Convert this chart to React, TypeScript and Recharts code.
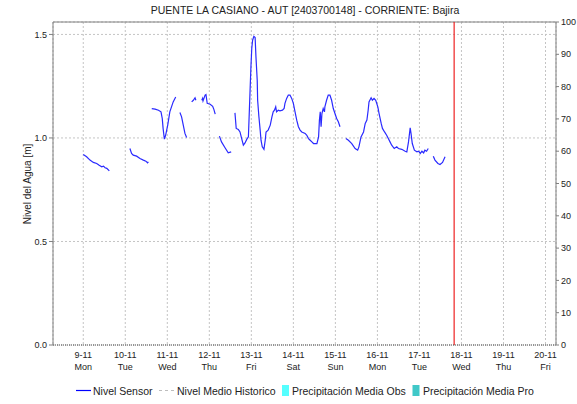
import React from 'react';
import { LineChart, Line, XAxis, YAxis, CartesianGrid, ReferenceLine } from 'recharts';

const FONT = '"Liberation Sans", Arial, Helvetica, sans-serif';

const chartTitle = 'PUENTE LA CASIANO - AUT [2403700148] - CORRIENTE: Bajira';
const yAxisTitle = 'Nivel del Agua [m]';
const dayTicks = [0, 1, 2, 3, 4, 5, 6, 7, 8, 9, 10, 11];
const dayLabels = ['9-11', '10-11', '11-11', '12-11', '13-11', '14-11', '15-11', '16-11', '17-11', '18-11', '19-11', '20-11'];
const weekdayLabels = ['Mon', 'Tue', 'Wed', 'Thu', 'Fri', 'Sat', 'Sun', 'Mon', 'Tue', 'Wed', 'Thu', 'Fri'];
const levelTicks = [0, 0.5, 1.0, 1.5];
const precipTicks = [0, 10, 20, 30, 40, 50, 60, 70, 80, 90, 100];
const nowDay = 8.826;
const legendNames = ['Nivel Sensor', 'Nivel Medio Historico', 'Precipitación Media Obs', 'Precipitación Media Pro'];

// time in days since 9-11 00:00 ; null level = gap in the record
const sensorDays = [
  0.00, 0.08, 0.16, 0.24, 0.32, 0.37, 0.44, 0.48, 0.52, 0.56, 0.62,
  0.85,
  1.11, 1.15, 1.19, 1.27, 1.35, 1.43, 1.49, 1.53, 1.55,
  1.59,
  1.63, 1.71, 1.79, 1.85, 1.88, 1.90, 1.93, 1.96, 2.01, 2.06, 2.10, 2.14, 2.20,
  2.25,
  2.30, 2.34, 2.38, 2.42, 2.46,
  2.52,
  2.58, 2.62, 2.66, 2.68,
  2.75,
  2.82, 2.84, 2.85, 2.90, 2.92, 2.95, 3.02, 3.08, 3.11, 3.14,
  3.19,
  3.24, 3.29, 3.37, 3.45, 3.52,
  3.57,
  3.61, 3.64, 3.69, 3.73, 3.77, 3.81, 3.85, 3.89, 3.93, 3.95, 3.97, 3.99, 4.01, 4.03, 4.06, 4.09, 4.11, 4.14,
  4.15, 4.18, 4.21, 4.23, 4.26, 4.30, 4.33, 4.35, 4.40, 4.45, 4.49, 4.52, 4.55, 4.58, 4.60, 4.64, 4.68, 4.74,
  4.78, 4.80, 4.84, 4.88, 4.92, 4.96, 5.00, 5.04, 5.08, 5.12, 5.16, 5.20, 5.28, 5.32, 5.36, 5.40, 5.44, 5.48,
  5.56, 5.60, 5.62, 5.64, 5.66, 5.68, 5.71, 5.74, 5.75, 5.79, 5.83, 5.87, 5.91, 5.95, 5.99, 6.03, 6.07, 6.11,
  6.18,
  6.25, 6.31, 6.39, 6.47, 6.53, 6.56, 6.61, 6.67, 6.71, 6.75, 6.78, 6.80, 6.85, 6.88, 6.92, 6.96, 7.01, 7.04,
  7.09, 7.12, 7.17, 7.22, 7.26, 7.30, 7.34, 7.40, 7.46, 7.50, 7.58, 7.66, 7.70, 7.74, 7.78, 7.80, 7.83, 7.88,
  7.94, 7.98, 8.02, 8.06, 8.10, 8.13, 8.17, 8.21,
  8.27,
  8.33, 8.37, 8.44, 8.49, 8.55, 8.61,
];

const sensorLevels: (number | null)[] = [
  0.920, 0.909, 0.893, 0.882, 0.877, 0.869, 0.861, 0.864, 0.856, 0.853, 0.841,
  null,
  0.949, 0.925, 0.917, 0.912, 0.901, 0.893, 0.888, 0.880, 0.885,
  null,
  1.142, 1.139, 1.134, 1.126, 1.094, 1.046, 0.994, 1.013, 1.062, 1.126, 1.150, 1.174, 1.198,
  null,
  1.123, 1.102, 1.062, 1.022, 1.002,
  null,
  1.174, 1.182, 1.194, 1.182,
  null,
  1.182, 1.191, 1.179, 1.207, 1.210, 1.167, 1.163, 1.153, 1.137, 1.115,
  null,
  1.009, 0.981, 0.954, 0.928, 0.933,
  null,
  1.121, 1.046, 1.041, 1.029, 0.997, 0.965, 0.976, 0.993, 1.005, 1.118, 1.231, 1.343, 1.432, 1.472, 1.491, 1.485, 1.391, 1.279,
  1.182, 1.102, 1.038, 0.989, 0.957, 0.945, 0.989, 1.029, 1.038, 1.062, 1.102, 1.126, 1.134, 1.150, 1.126, 1.134, 1.131, 1.134,
  1.142, 1.167, 1.191, 1.207, 1.207, 1.191, 1.167, 1.126, 1.086, 1.054, 1.038, 1.029, 1.022, 1.013, 0.997, 0.989, 0.981, 0.973,
  0.973, 1.005, 1.086, 1.126, 1.054, 1.118, 1.142, 1.126, 1.150, 1.182, 1.207, 1.207, 1.182, 1.142, 1.118, 1.094, 1.078, 1.054,
  null,
  0.997, 0.989, 0.973, 0.949, 0.941, 0.957, 1.005, 1.029, 1.070, 1.086, 1.134, 1.174, 1.194, 1.182, 1.191, 1.182, 1.150, 1.118,
  1.070, 1.046, 1.029, 1.013, 0.997, 0.981, 0.965, 0.949, 0.957, 0.949, 0.945, 0.936, 0.933, 0.981, 1.049, 1.022, 0.973, 0.941,
  0.933, 0.936, 0.925, 0.936, 0.928, 0.941, 0.936, 0.949,
  null,
  0.912, 0.893, 0.877, 0.872, 0.882, 0.909,
];

const chartData = sensorDays.map((d, i) => ({ day: d, level: sensorLevels[i] ?? null }));

const DayTick = (props: any) => {
  const { x, y, payload } = props;
  const i = dayTicks.indexOf(payload.value);
  return (
    <text x={x} y={y} textAnchor="middle" fontSize={9} fill="#222" fontFamily={FONT}>
      <tspan x={x} dy={13}>{dayLabels[i]}</tspan>
      <tspan x={x} dy={12}>{weekdayLabels[i]}</tspan>
    </text>
  );
};

export default function App() {
  return (
    <div style={{ position: 'absolute', left: 0, top: 0, width: 577, height: 404, background: '#fff', fontFamily: FONT }}>
      <LineChart width={577} height={404} data={chartData} margin={{ top: 22, right: 0, bottom: 29, left: 0 }}>
        <CartesianGrid stroke="#c4c4c4" strokeDasharray="2 2" />
        <XAxis
          dataKey="day"
          type="number"
          domain={[-0.72, 11.25]}
          ticks={dayTicks}
          interval={0}
          allowDataOverflow
          height={30}
          tickLine={false}
          tickSize={0}
          tickMargin={0}
          axisLine={{ stroke: '#444', strokeDasharray: '1 1' }}
          tick={<DayTick />}
        />
        <YAxis
          domain={[0, 1.56]}
          ticks={levelTicks}
          allowDataOverflow
          interval={0}
          width={53}
          tickSize={4}
          tickMargin={2}
          tickFormatter={(v: number) => v.toFixed(1)}
          axisLine={{ stroke: '#808080' }}
          tickLine={{ stroke: '#808080' }}
          tick={{ fontSize: 9, fill: '#222', fontFamily: FONT }}
        />
        <YAxis
          yAxisId="right"
          orientation="right"
          domain={[0, 100]}
          ticks={precipTicks}
          interval={0}
          allowDataOverflow
          width={21}
          tickSize={3}
          tickMargin={2}
          axisLine={{ stroke: '#808080' }}
          tickLine={{ stroke: '#808080' }}
          tick={{ fontSize: 9, fill: '#222', fontFamily: FONT }}
        />
        <ReferenceLine y={1.56} stroke="#808080" ifOverflow="extendDomain" />
        <ReferenceLine x={nowDay} stroke="#ee2222" strokeWidth={1.2} />
        <Line
          type="linear"
          dataKey="level"
          stroke="#2a2aff"
          strokeWidth={1.2}
          dot={false}
          activeDot={false}
          connectNulls={false}
          isAnimationActive={false}
        />
      </LineChart>
      <svg width={577} height={404} style={{ position: 'absolute', left: 0, top: 0, pointerEvents: 'none' }}>
        <text x={305} y={14} textAnchor="middle" fontSize={10.5} fill="#222" fontFamily={FONT}>{chartTitle}</text>
        <text x={31} y={184} transform="rotate(-90, 31, 184)" textAnchor="middle" fontSize={10} fill="#222" fontFamily={FONT}>{yAxisTitle}</text>
        <g fontSize={10.5} fill="#222" fontFamily={FONT}>
          <line x1={76} x2={91} y1={390.5} y2={390.5} stroke="#0000ff" strokeWidth={1.2} />
          <text x={93} y={394.5}>{legendNames[0]}</text>
          <line x1={159} x2={174} y1={390.5} y2={390.5} stroke="#bdbdbd" strokeWidth={1.2} strokeDasharray="3 3" />
          <text x={177} y={394.5}>{legendNames[1]}</text>
          <rect x={282} y={385} width={7} height={11} fill="#55ffff" />
          <text x={292} y={394.5}>{legendNames[2]}</text>
          <rect x={412.5} y={385} width={7} height={11} fill="#40c8c8" />
          <text x={423} y={394.5}>{legendNames[3]}</text>
        </g>
      </svg>
    </div>
  );
}
